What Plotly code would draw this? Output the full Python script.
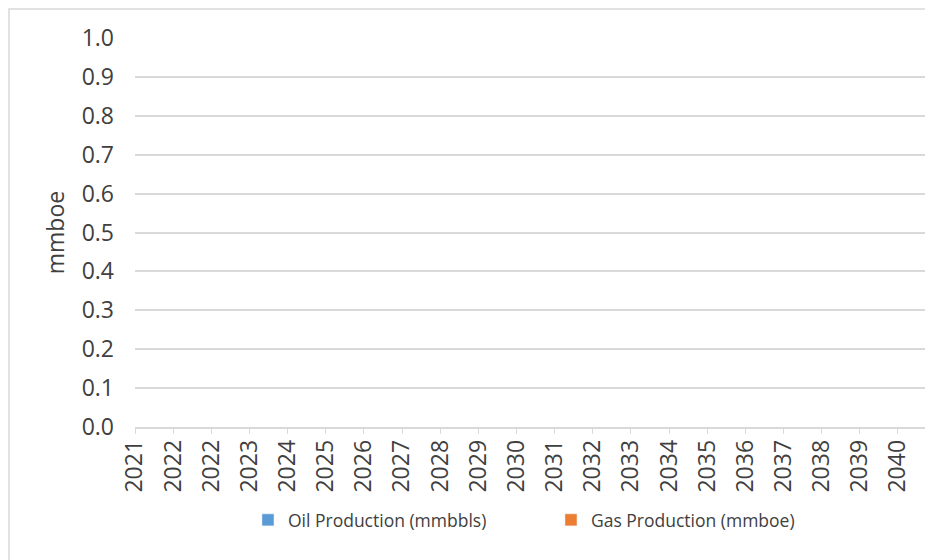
import plotly.graph_objects as go

YEARS = ["2021", "2022", "2022", "2023", "2024", "2025", "2026", "2027", "2028", "2029",
         "2030", "2031", "2032", "2033", "2034", "2035", "2036", "2037", "2038", "2039", "2040"]
OIL_PRODUCTION = [None, None, None, None, None, None, None, None, None, None,
                  None, None, None, None, None, None, None, None, None, None, None]
GAS_PRODUCTION = [None, None, None, None, None, None, None, None, None, None,
                  None, None, None, None, None, None, None, None, None, None, None]
Y_TICKS = [0.0, 0.1, 0.2, 0.3, 0.4, 0.5, 0.6, 0.7, 0.8, 0.9, 1.0]

FONT = "Open Sans, DejaVu Sans, sans-serif"
TEXT = "#404040"
GRID = "#d9d9d9"

pos = list(range(len(YEARS)))

fig = go.Figure()
fig.add_trace(go.Bar(x=pos, y=OIL_PRODUCTION, name="Oil Production (mmbbls)", marker_color="#5b9bd5"))
fig.add_trace(go.Bar(x=pos, y=GAS_PRODUCTION, name="Gas Production (mmboe)", marker_color="#ed7d31"))

fig.update_layout(
    width=925,
    height=560,
    margin={"l": 135, "r": 0, "t": 38, "b": 133},
    paper_bgcolor="white",
    plot_bgcolor="white",
    font={"family": FONT, "color": TEXT},
    barmode="group",
    showlegend=True,
    legend={
        "orientation": "h",
        "x": 0.143,
        "xanchor": "left",
        "y": -0.239,
        "yanchor": "middle",
        "font": {"size": 17.5, "color": TEXT},
        "entrywidth": 258,
        "itemwidth": 30,
    },
)
fig.update_xaxes(
    range=[0, 20.71],
    tickmode="array",
    tickvals=pos,
    ticktext=YEARS,
    tickangle=-90,
    tickfont={"size": 23, "color": TEXT},
    ticks="outside",
    ticklen=5,
    tickcolor=GRID,
    ticklabelstandoff=-3,
    showline=True,
    linecolor=GRID,
    linewidth=1.5,
    showgrid=False,
    zeroline=False,
    fixedrange=True,
)
fig.update_yaxes(
    range=[0, 1.0],
    tickmode="array",
    tickvals=Y_TICKS,
    tickformat=".1f",
    tickfont={"size": 23, "color": TEXT},
    ticklabelstandoff=20,
    showgrid=True,
    gridcolor=GRID,
    gridwidth=1.5,
    zeroline=False,
    showline=False,
    title={"text": "mmboe", "font": {"size": 23, "color": TEXT}, "standoff": 10},
)
# outer chart border (runs off the right and bottom edges, as in the source)
fig.add_shape(type="rect", xref="paper", yref="paper", x0=-0.1595, x1=1.05, y0=-0.5, y1=1.0746,
              line={"color": GRID, "width": 1.5}, fillcolor="rgba(0,0,0,0)", layer="below")

# drop the default 8px body margin so the figure fills the window
fig.write_html("out.html", config={"displayModeBar": False},
               post_script="document.body.style.margin = '0';")
